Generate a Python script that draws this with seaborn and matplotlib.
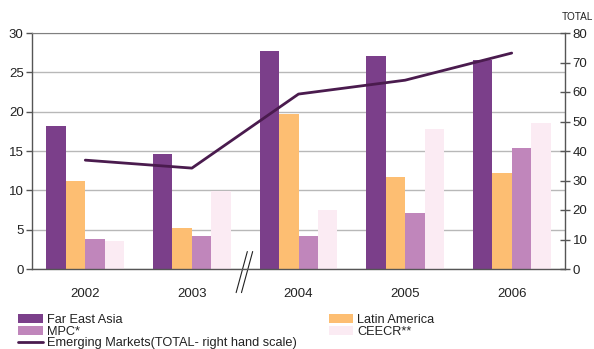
import matplotlib
matplotlib.use("Agg")
import matplotlib.pyplot as plt
import seaborn as sns
import pandas as pd
import numpy as np

years = ["2002", "2003", "2004", "2005", "2006"]
far_east_asia = [18.2, 14.6, 27.7, 27.1, 26.6]
latin_america = [11.2, 5.2, 19.7, 11.7, 12.2]
mpc = [3.8, 4.2, 4.2, 7.1, 15.4]
ceecr = [3.6, 9.9, 7.5, 17.8, 18.6]
emerging_total = [36.9, 34.2, 59.3, 64.0, 73.2]

series_names = ["Far East Asia", "Latin America", "MPC*", "CEECR**"]
colors = ["#7B3F8A", "#FDBE72", "#C086BB", "#FBEBF3"]
line_color = "#4A1B4E"
line_label = "Emerging Markets(TOTAL- right hand scale)"

sns.set_style("white")
plt.rcParams["font.family"] = ["Liberation Sans", "DejaVu Sans"]

rows = []
for name, vals in zip(series_names, [far_east_asia, latin_america, mpc, ceecr]):
    for y, v in zip(years, vals):
        rows.append({"year": y, "series": name, "value": v})
df = pd.DataFrame(rows)
line_df = pd.DataFrame({"pos": np.arange(len(years)), "total": emerging_total})

fig = plt.figure(figsize=(5.94, 3.49), dpi=100)
ax = fig.add_axes([32 / 594, 1 - 269 / 349, (565 - 32) / 594, (269 - 33) / 349])

sns.barplot(data=df, x="year", y="value", hue="series", order=years,
            hue_order=series_names, palette=colors, width=0.73, gap=0,
            saturation=1, ax=ax, legend=False, linewidth=0)

ax.set_xlim(-0.5, len(years) - 0.5)
ax.set_ylim(0, 30)
ax.set_yticks(np.arange(0, 31, 5))
ax.yaxis.grid(True, color="#b8b8b8", linewidth=1)
ax.set_axisbelow(True)
ax.set_xlabel("")
ax.set_ylabel("")

# category boundary ticks (no tick at the break between 2003 and 2004)
bounds = [-0.5, 0.5, 2.5, 3.5, 4.5]
ax.set_xticks(bounds)
ax.set_xticklabels([""] * len(bounds))
ax.set_xticks(np.arange(len(years)), minor=True)
ax.set_xticklabels(years, minor=True)
ax.tick_params(axis="x", which="major", direction="out", length=4, width=1, color="#555555")
ax.tick_params(axis="x", which="minor", length=0, pad=14, labelsize=9.5, labelcolor="#222222")
ax.tick_params(axis="y", direction="out", length=4, width=1, color="#555555",
               labelsize=9.5, labelcolor="#222222", pad=2)

for s in ["left", "bottom"]:
    ax.spines[s].set_color("#555555")
    ax.spines[s].set_linewidth(1)
ax.spines["top"].set_color("#808080")
ax.spines["right"].set_visible(False)

ax2 = ax.twinx()
sns.lineplot(data=line_df, x="pos", y="total", ax=ax2, color=line_color,
             linewidth=2.0, legend=False)
ax2.set_ylim(0, 80)
ax2.set_yticks(np.arange(0, 81, 10))
ax2.set_xlim(-0.5, len(years) - 0.5)
ax2.set_ylabel("")
ax2.set_xlabel("")
ax2.tick_params(axis="y", direction="inout", length=7, width=1, color="#555555",
                labelsize=9.5, labelcolor="#222222", pad=2)
for s in ["left", "bottom", "top"]:
    ax2.spines[s].set_visible(False)
ax2.spines["right"].set_color("#555555")
ax2.spines["right"].set_linewidth(1)

# axis break mark between 2003 and 2004
trans = matplotlib.transforms.blended_transform_factory(ax.transData, ax.transAxes)
for dx in (0.0, 0.05):
    ax.plot([1.5 + 0.02 + dx, 1.5 - 0.085 + dx], [0.074, -0.10], transform=trans,
            color="#222222", linewidth=0.8, clip_on=False)

fig.text(577 / 594, 1 - 17 / 349, "TOTAL", ha="center", va="center",
         fontsize=7.2, color="#222222")

from matplotlib.patches import Patch
from matplotlib.lines import Line2D
h_fea = Patch(facecolor=colors[0], edgecolor="none")
h_lat = Patch(facecolor=colors[1], edgecolor="none")
h_mpc = Patch(facecolor=colors[2], edgecolor="none")
h_cee = Patch(facecolor=colors[3], edgecolor="none")
h_line = Line2D([], [], color=line_color, linewidth=2.0)
handles = [h_fea, h_mpc, h_line, h_lat, h_cee]
labels = [series_names[0], series_names[2], line_label, series_names[1], series_names[3]]
leg = fig.legend(handles, labels, ncol=2, loc="upper left",
                 bbox_to_anchor=(18 / 594, 1 - 314 / 349), frameon=False,
                 fontsize=9.2, handlelength=1.95, handleheight=0.65,
                 handletextpad=0.3, columnspacing=2.5, labelspacing=-0.02,
                 borderpad=0, borderaxespad=0)
for t in leg.get_texts():
    t.set_color("#222222")

fig.savefig("out.png", dpi=100)
